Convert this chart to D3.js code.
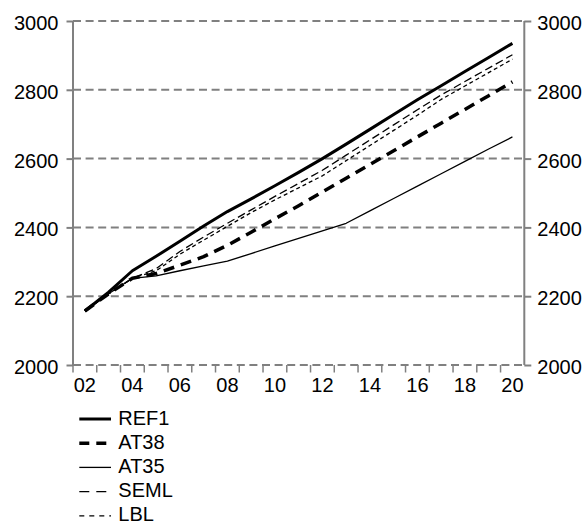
<!DOCTYPE html>
<html>
<head>
<meta charset="utf-8">
<script src="https://cdn.jsdelivr.net/npm/d3@7/dist/d3.min.js"></script>
<style>
  html, body { margin: 0; padding: 0; background: #fff; }
  svg { display: block; font-family: "Liberation Sans", Arial, sans-serif; }
</style>
</head>
<body>
<svg id="chart" width="588" height="525"></svg>
<script>
// Years on the category axis
const years = [2002, 2003, 2004, 2005, 2006, 2007, 2008, 2009, 2010, 2011,
               2012, 2013, 2014, 2015, 2016, 2017, 2018, 2019, 2020];

// Scenario series (one value per year)
const ref1 = [2157, 2212, 2274, 2316, 2360, 2404, 2446, 2483, 2521, 2560,
              2600, 2642, 2685, 2728, 2771, 2812, 2853, 2894, 2935];
const at38 = [2157, 2207, 2252, 2266, 2290, 2315, 2348, 2386, 2425, 2463,
              2503, 2543, 2583, 2623, 2663, 2703, 2743, 2783, 2823];
const at35 = [2157, 2207, 2252, 2259, 2274, 2288, 2302, 2324, 2346, 2368,
              2390, 2412, 2448, 2484, 2520, 2556, 2592, 2628, 2663];
const seml = [2157, 2207, 2252, 2280, 2330, 2372, 2412, 2451, 2490, 2528,
              2566, 2610, 2654, 2698, 2742, 2785, 2824, 2863, 2902];
const lbl  = [2157, 2207, 2252, 2274, 2322, 2363, 2403, 2443, 2480, 2515,
              2550, 2594, 2638, 2682, 2726, 2772, 2811, 2850, 2889];

// Axis ticks
const yTicks = [2000, 2200, 2400, 2600, 2800, 3000];
const xTickLabels = ["02", "04", "06", "08", "10", "12", "14", "16", "18", "20"];
const seriesNames = ["REF1", "AT38", "AT35", "SEML", "LBL"];

const series = [
  { name: seriesNames[0], values: ref1, width: 3,   dash: null },
  { name: seriesNames[1], values: at38, width: 3.5, dash: "11,7" },
  { name: seriesNames[2], values: at35, width: 1.3, dash: null },
  { name: seriesNames[3], values: seml, width: 1.3, dash: "8,4" },
  { name: seriesNames[4], values: lbl,  width: 1.3, dash: "4,3" }
];

const svg = d3.select("#chart");
const plotLeft = 73, plotRight = 524.3, plotTop = 21, plotBottom = 365;
const grey = "#808080";
const fontSize = 20;

const x = d3.scaleBand().domain(years).range([plotLeft, plotRight]).paddingInner(0).paddingOuter(0);
const y = d3.scaleLinear().domain([2000, 3000]).range([plotBottom, plotTop]);

// Horizontal dashed gridlines
svg.append("g").selectAll("line").data(yTicks).join("line")
  .attr("x1", plotLeft).attr("x2", plotRight)
  .attr("y1", d => y(d)).attr("y2", d => y(d))
  .attr("stroke", grey).attr("stroke-width", 2)
  .attr("stroke-dasharray", "8,4.6");

// Left axis
const yLeft = svg.append("g").attr("transform", `translate(${plotLeft},0)`)
  .call(d3.axisLeft(y).tickValues(yTicks).tickSize(6.5).tickPadding(8).tickFormat(d3.format("d")));
yLeft.select(".domain").attr("stroke", grey).attr("stroke-width", 2).attr("d", `M0,${plotTop}V${plotBottom}`);
yLeft.selectAll(".tick line").attr("stroke", grey).attr("stroke-width", 2);
yLeft.selectAll(".tick text").attr("fill", "#000").attr("font-size", fontSize)
  .attr("font-family", "Liberation Sans, Arial, sans-serif").attr("dy", "8.5px");

// Right axis
const yRight = svg.append("g").attr("transform", `translate(${plotRight},0)`)
  .call(d3.axisRight(y).tickValues(yTicks).tickSize(7).tickPadding(6).tickFormat(d3.format("d")));
yRight.select(".domain").attr("stroke", grey).attr("stroke-width", 2).attr("d", `M0,${plotTop}V${plotBottom}`);
yRight.selectAll(".tick line").attr("stroke", grey).attr("stroke-width", 2);
yRight.selectAll(".tick text").attr("fill", "#000").attr("font-size", fontSize)
  .attr("font-family", "Liberation Sans, Arial, sans-serif").attr("dy", "8.5px");

// Category tick marks at band boundaries
svg.append("g").selectAll("line").data(years).join("line")
  .attr("x1", d => x(d)).attr("x2", d => x(d))
  .attr("y1", plotBottom).attr("y2", plotBottom + 7.5)
  .attr("stroke", grey).attr("stroke-width", 1.5);

// Category labels every second year
const labelled = years.filter((d, i) => i % 2 === 0);
svg.append("g").selectAll("text").data(labelled).join("text")
  .attr("x", d => x(d) + x.bandwidth() / 2)
  .attr("y", 392)
  .attr("text-anchor", "middle")
  .attr("font-size", fontSize)
  .text((d, i) => xTickLabels[i]);

// Series lines
const line = d3.line()
  .x((d, i) => x(years[i]) + x.bandwidth() / 2)
  .y(d => y(d));

svg.append("g").selectAll("path").data(series).join("path")
  .attr("d", s => line(s.values))
  .attr("fill", "none")
  .attr("stroke", "#000")
  .attr("stroke-width", s => s.width)
  .attr("stroke-dasharray", s => s.dash)
  .attr("stroke-linejoin", "round");

// Legend
const legend = svg.append("g").selectAll("g").data(series).join("g")
  .attr("transform", (d, i) => `translate(0,${419 + i * 24.2})`);
legend.append("line")
  .attr("x1", 79.3).attr("x2", 111).attr("y1", 0).attr("y2", 0)
  .attr("stroke", "#000")
  .attr("stroke-width", s => s.width)
  .attr("stroke-dasharray", s => s.dash ? (s.name === "LBL" ? "5,5" : "10,7") : null);
legend.append("text")
  .attr("x", 118.3).attr("y", 5.5)
  .attr("font-size", fontSize)
  .text(s => s.name);
</script>
</body>
</html>
